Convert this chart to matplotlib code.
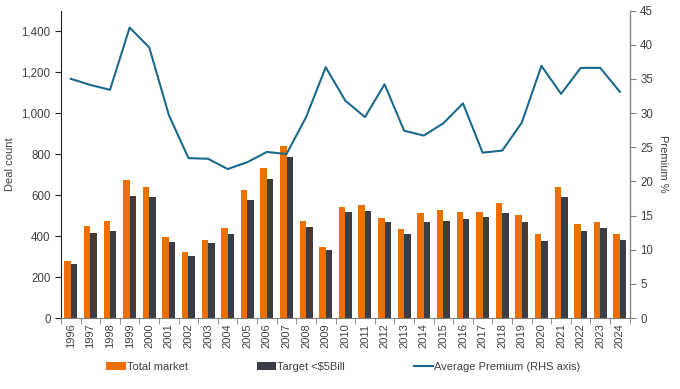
import matplotlib
matplotlib.use('Agg')
import matplotlib.pyplot as plt
import numpy as np

plt.rcParams['font.family'] = ['Liberation Sans', 'DejaVu Sans']

years = [str(y) for y in range(1996, 2025)]
total_market = [280, 447, 473, 672, 638, 397, 321, 380, 438, 626, 732, 838, 473, 345,
                542, 552, 486, 432, 513, 528, 518, 518, 563, 503, 412, 640, 461, 469, 409]
target_5b = [262, 415, 422, 596, 590, 373, 303, 366, 411, 576, 676, 783, 442, 333,
             518, 521, 469, 412, 467, 471, 484, 492, 510, 467, 378, 591, 424, 440, 381]
premium = [35.0, 34.1, 33.4, 42.5, 39.6, 29.7, 23.4, 23.3, 21.8, 22.8, 24.3, 24.0, 29.4, 36.7,
           31.8, 29.4, 34.2, 27.4, 26.7, 28.5, 31.4, 24.2, 24.5, 28.6, 36.9, 32.8, 36.6, 36.6, 33.1]

orange = '#EC7000'
dark = '#3A3D45'
blue = '#1B6A8C'
txt = '#404040'

fig = plt.figure(figsize=(6.8, 3.89), dpi=100)
ax = fig.add_axes([0.0897, 0.1825, 0.8363, 0.7905])
ax2 = ax.twinx()

x = np.arange(len(years))
w = 0.33
b1 = ax.bar(x - w / 2, total_market, w, color=orange, label='Total market')
b2 = ax.bar(x + w / 2, target_5b, w, color=dark, label='Target <$5Bill')
l1, = ax2.plot(x, premium, color=blue, lw=1.5, label='Average Premium (RHS axis)')

ax.set_xlim(-0.5, len(years) - 0.5)
ax.set_ylim(0, 1500)
ax2.set_ylim(0, 45)
ax.set_yticks(range(0, 1401, 200))
ax.set_yticklabels([f'{v:,}' for v in range(0, 1401, 200)])
ax2.set_yticks(range(0, 46, 5))

ax.set_xticks(x)
ax.set_xticklabels(years, rotation=90)
ax.set_xticks(np.arange(-0.5, len(years), 1), minor=True)
ax.tick_params(axis='x', which='major', length=0, pad=4)
ax.tick_params(axis='x', which='minor', length=4, color='#808080')

for a in (ax, ax2):
    a.spines['top'].set_visible(False)
    a.tick_params(labelsize=8.3, colors=txt)
ax.tick_params(axis='x', labelsize=8)
ax.tick_params(axis='y', length=4, color='#202020')
ax2.tick_params(axis='y', length=4, color='#808080')
ax.spines['left'].set_color('#202020')
ax.spines['bottom'].set_color('#808080')
ax2.spines['right'].set_color('#808080')
ax2.spines['left'].set_visible(False)
ax2.spines['bottom'].set_visible(False)

ax.set_ylabel('Deal count', fontsize=8, color=txt, labelpad=5)
ax2.set_ylabel('Premium %', fontsize=8, color=txt, rotation=270, labelpad=11)

fig.legend(handles=[b1, b2, l1], loc='center', bbox_to_anchor=(0.505, 0.056), ncol=3,
           frameon=False, fontsize=8, handlelength=1.75, handletextpad=0.1,
           columnspacing=6.2, labelcolor=txt)

fig.savefig('out.png', dpi=100)
